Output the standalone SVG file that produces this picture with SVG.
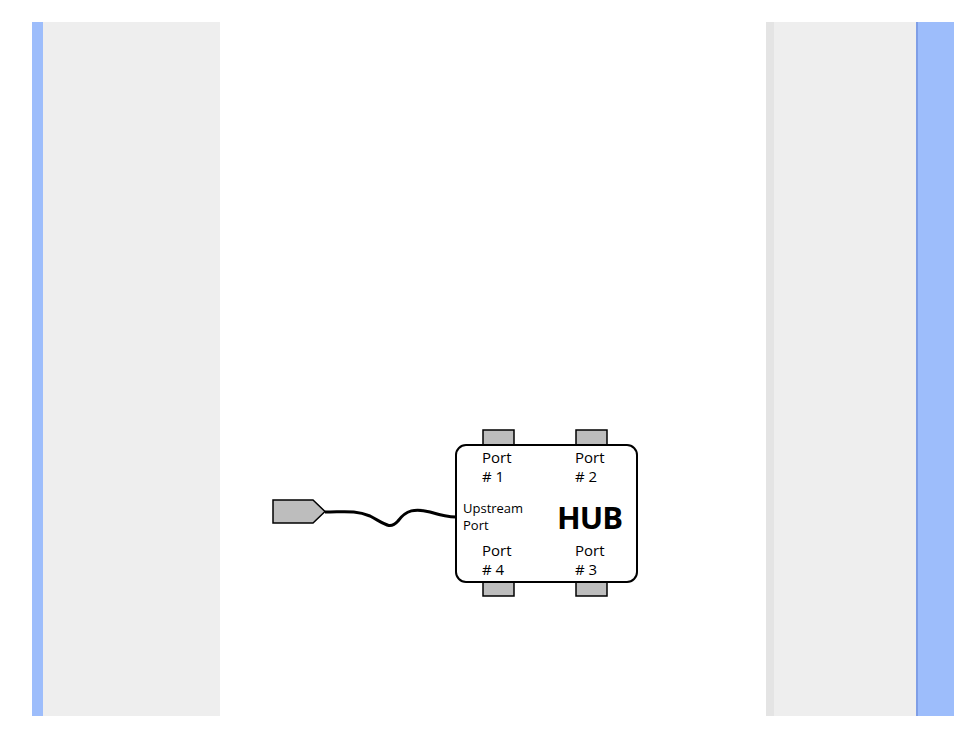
<svg xmlns="http://www.w3.org/2000/svg" width="954" height="738" viewBox="0 0 954 738">
<style>
.t{font-family:"Open Sans","DejaVu Sans",sans-serif;font-size:15px;fill:#000}
.tab{fill:#bdbdbd;stroke:#000;stroke-width:1.5}
</style>
<rect width="954" height="738" fill="#fff"/>
<g id="frame">
<rect x="32" y="22" width="11" height="694" fill="#9dbdfb"/>
<rect x="43" y="22" width="177" height="694" fill="#eeeeee"/>
<rect x="766" y="22" width="151" height="694" fill="#eeeeee"/>
<rect x="766" y="22" width="8" height="694" fill="#e4e4e4"/>
<rect x="917" y="22" width="37" height="694" fill="#9dbdfb"/>
<rect x="916" y="22" width="2" height="694" fill="#7f9ee6"/>
</g>
<g id="connectors">
<path d="M325,512 C345,512 355,510 370,516 C385,524 390,530 398,521 C406,510 415,508 430,512 C440,515 448,517 456,517" fill="none" stroke="#000" stroke-width="3"/>
</g>
<g id="plug">
<polygon points="273,500 313,500 325,511.5 313,523 273,523" fill="#bdbdbd" stroke="#000" stroke-width="1.5"/>
</g>
<g id="hub">
<rect x="483" y="430" width="31" height="15" class="tab"/>
<rect x="576" y="430" width="31" height="15" class="tab"/>
<rect x="483" y="582" width="31" height="14" class="tab"/>
<rect x="576" y="582" width="31" height="14" class="tab"/>
<rect x="456" y="445" width="181" height="137" rx="10" fill="#fff" stroke="#000" stroke-width="2"/>
<text class="t" x="482" y="463">Port</text>
<text class="t" x="482" y="482"># 1</text>
<text class="t" x="575" y="463">Port</text>
<text class="t" x="575" y="482"># 2</text>
<text class="t" x="463" y="513" style="font-size:13px">Upstream</text>
<text class="t" x="463" y="530" style="font-size:13px">Port</text>
<text x="557" y="529" style="font-family:'Open Sans','DejaVu Sans',sans-serif;font-size:31px;font-weight:bold;letter-spacing:-1px">HUB</text>
<text class="t" x="482" y="556">Port</text>
<text class="t" x="482" y="575"># 4</text>
<text class="t" x="575" y="556">Port</text>
<text class="t" x="575" y="575"># 3</text>
</g>
</svg>
